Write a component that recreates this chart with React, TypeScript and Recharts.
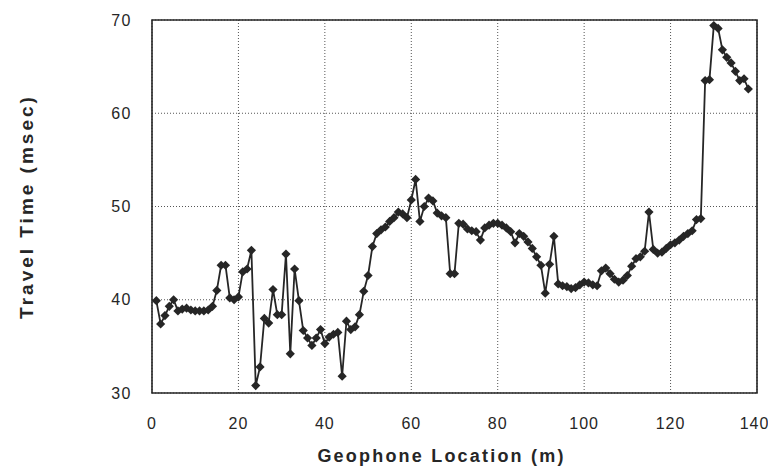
import {
  LineChart,
  Line,
  XAxis,
  YAxis,
  CartesianGrid,
  ReferenceArea,
  Label,
} from "recharts";

// geophone positions (m) and first-arrival travel times (msec)
const locations = [
  1, 2, 3, 4, 5, 6, 7, 8, 9, 10, 11, 12, 13, 14, 15, 16, 17, 18, 19, 20,
  21, 22, 23, 24, 25, 26, 27, 28, 29, 30, 31, 32, 33, 34, 35, 36, 37, 38, 39, 40,
  41, 42, 43, 44, 45, 46, 47, 48, 49, 50, 51, 52, 53, 54, 55, 56, 57, 58, 59, 60,
  61, 62, 63, 64, 65, 66, 67, 68, 69, 70, 71, 72, 73, 74, 75, 76, 77, 78, 79, 80,
  81, 82, 83, 84, 85, 86, 87, 88, 89, 90, 91, 92, 93, 94, 95, 96, 97, 98, 99, 100,
  101, 102, 103, 104, 105, 106, 107, 108, 109, 110, 111, 112, 113, 114, 115, 116, 117, 118, 119, 120,
  121, 122, 123, 124, 125, 126, 127, 128, 129, 130, 131, 132, 133, 134, 135, 136, 137, 138,
];

const travelTimes = [
  39.9, 37.4, 38.3, 39.3, 40.0, 38.8, 39.0, 39.1, 38.9, 38.8, 38.8, 38.8, 38.9, 39.3, 41.0, 43.7, 43.7, 40.2, 40.0, 40.3,
  43.0, 43.3, 45.3, 30.8, 32.8, 38.0, 37.5, 41.1, 38.4, 38.4, 44.9, 34.2, 43.3, 39.9, 36.7, 35.9, 35.1, 35.9, 36.8, 35.3,
  36.0, 36.3, 36.5, 31.8, 37.7, 36.8, 37.1, 38.4, 40.9, 42.6, 45.7, 47.1, 47.5, 47.8, 48.4, 48.8, 49.4, 49.2, 48.8, 50.7,
  52.9, 48.4, 50.0, 50.9, 50.6, 49.3, 49.0, 48.8, 42.8, 42.8, 48.2, 48.1, 47.6, 47.4, 47.3, 46.4, 47.7, 48.0, 48.2, 48.2,
  48.0, 47.7, 47.3, 46.1, 47.1, 46.8, 46.2, 45.5, 44.6, 43.7, 40.7, 43.8, 46.8, 41.7, 41.5, 41.4, 41.2, 41.3, 41.6, 41.9,
  41.8, 41.6, 41.5, 43.1, 43.4, 42.8, 42.2, 41.9, 42.1, 42.6, 43.6, 44.4, 44.6, 45.2, 49.4, 45.4, 45.0, 45.1, 45.5, 45.9,
  46.1, 46.4, 46.8, 47.1, 47.4, 48.6, 48.7, 63.5, 63.6, 69.4, 69.1, 66.8, 66.0, 65.4, 64.5, 63.5, 63.7, 62.6,
];

const xTicks = [0, 20, 40, 60, 80, 100, 120, 140];
const yTicks = [30, 40, 50, 60, 70];

const data = locations.map((x, i) => ({ x, t: travelTimes[i] }));

const FONT = '"Liberation Sans", Arial, sans-serif';
const INK = "#262626";

// diamond markers like the original plot
function Diamond(props: any) {
  const { cx, cy, index } = props;
  if (cx == null || cy == null) return <g key={index} />;
  const r = 4.6;
  return (
    <path
      key={index}
      d={`M${cx},${cy - r}L${cx + r},${cy}L${cx},${cy + r}L${cx - r},${cy}Z`}
      fill={INK}
      stroke="none"
    />
  );
}

export default function App() {
  return (
    <div style={{ position: "absolute", left: 0, top: 0, background: "#fff" }}>
      <LineChart
        width={768}
        height={466}
        data={data}
        margin={{ top: 20, right: 11, left: 0, bottom: 0 }}
      >
        <CartesianGrid stroke="#555" strokeDasharray="1 2" />
        <XAxis
          dataKey="x"
          type="number"
          domain={[0, 140]}
          ticks={xTicks}
          tickLine={false}
          axisLine={false}
          tickMargin={19}
          height={73}
          tick={{ fontSize: 16, fill: INK, fontFamily: FONT, letterSpacing: 1 }}
        >
          <Label
            value="Geophone Location (m)"
            position="insideBottom"
            offset={4}
            dx={-13}
            style={{ fontSize: 18, fill: INK, fontFamily: FONT, fontWeight: "bold", letterSpacing: 2.2 }}
          />
        </XAxis>
        <YAxis
          type="number"
          domain={[30, 70]}
          ticks={yTicks}
          tickLine={false}
          axisLine={false}
          tickMargin={14}
          width={152}
          tick={{ fontSize: 16, fill: INK, fontFamily: FONT, letterSpacing: 1.5 }}
        >
          <Label
            value="Travel Time (msec)"
            angle={-90}
            position="insideLeft"
            offset={26}
            style={{ fontSize: 19, fill: INK, fontFamily: FONT, fontWeight: "bold", letterSpacing: 3, textAnchor: "middle" }}
          />
        </YAxis>
        <ReferenceArea
          x1={0}
          x2={140}
          y1={30}
          y2={70}
          fill="none"
          stroke={INK}
          strokeWidth={1.6}
          ifOverflow="visible"
        />
        <Line
          type="linear"
          dataKey="t"
          stroke={INK}
          strokeWidth={1.8}
          dot={Diamond}
          activeDot={false}
          isAnimationActive={false}
        />
      </LineChart>
    </div>
  );
}
